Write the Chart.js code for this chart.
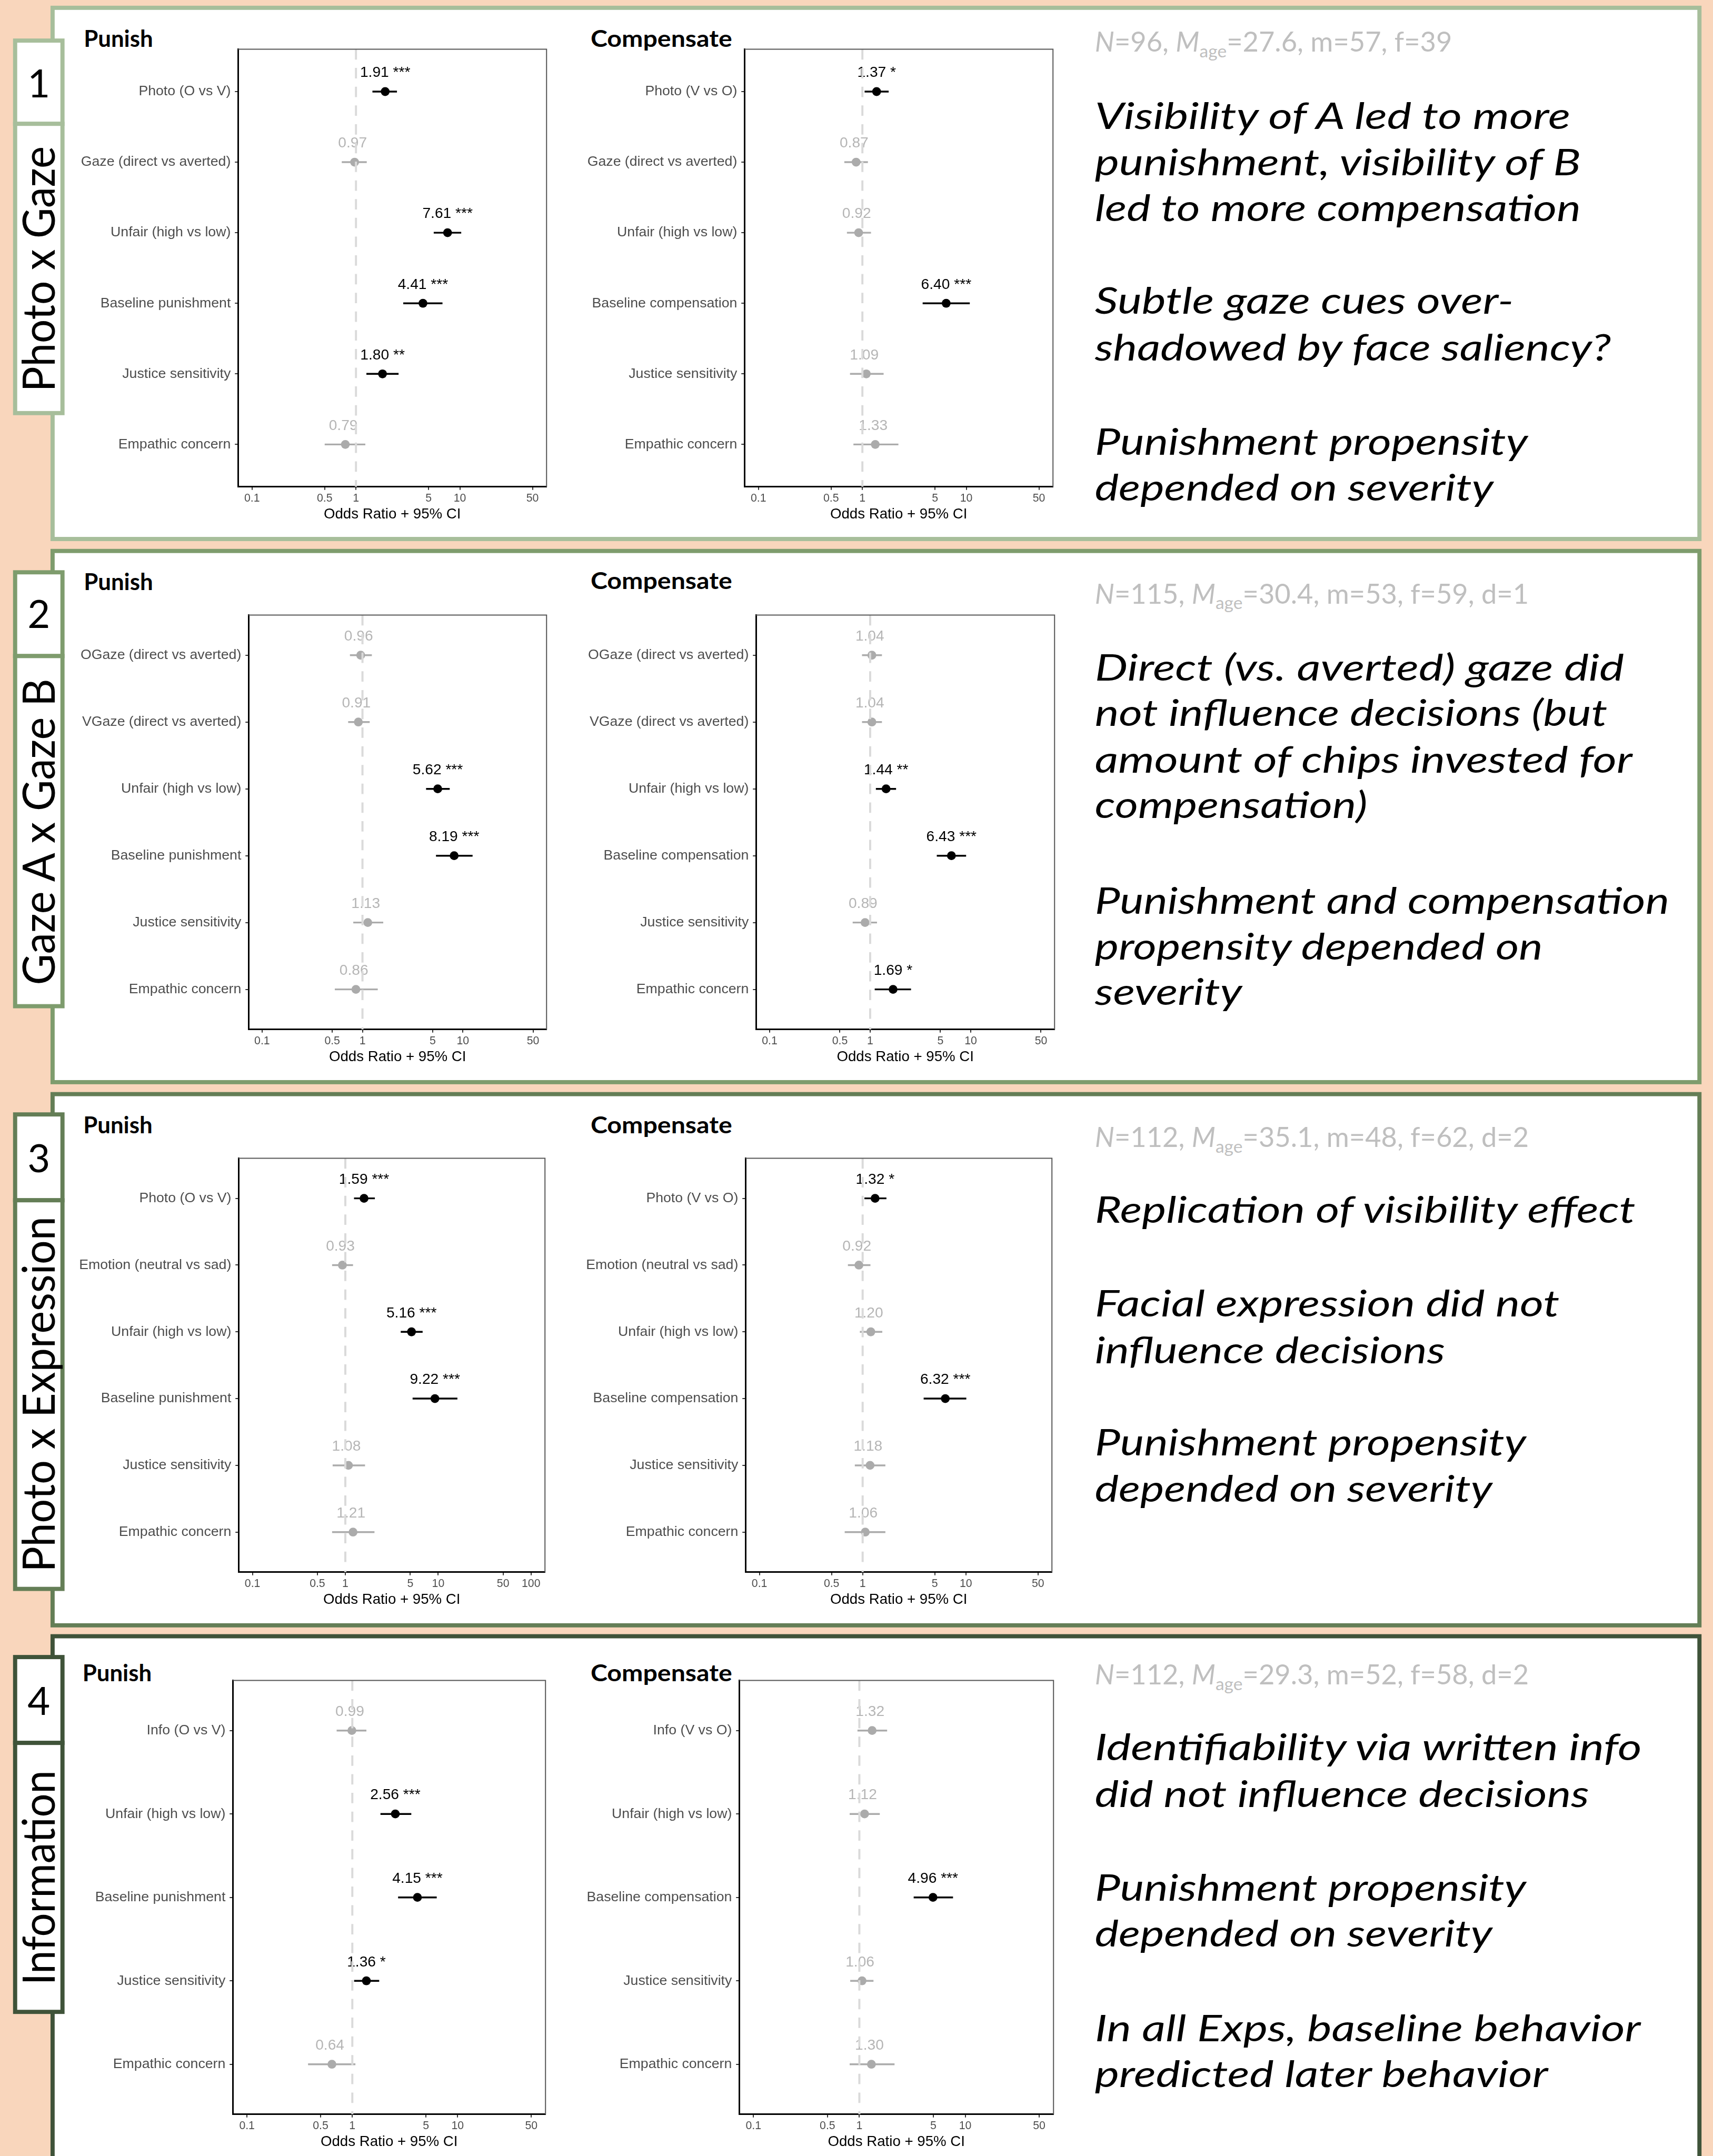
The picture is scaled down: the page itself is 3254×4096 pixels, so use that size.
<!DOCTYPE html>
<html>
<head>
<meta charset="utf-8">
<script src="https://cdn.jsdelivr.net/npm/chart.js@4.4.1/dist/chart.umd.min.js"></script>
<style>
  html, body { margin: 0; padding: 0; background: #f9d6bc; }
  #page { position: relative; width: 3254px; height: 4096px; overflow: hidden; background: #f9d6bc; }
  #deco { position: absolute; left: 0; top: 0; }
  #page canvas { position: absolute; }
  .num { font-family: Lato, sans-serif; font-size: 75px; fill: #000; }
  .side { font-family: Lato, sans-serif; font-size: 86px; fill: #000; }
  .sub { font-family: Lato, sans-serif; font-weight: 700; font-size: 44px; fill: #000; }
  .stats { font-family: Lato, sans-serif; font-size: 53px; fill: #bfbfbf; }
  .note { font-family: Lato, sans-serif; font-style: italic; font-size: 70px; fill: #000; }
</style>
</head>
<body>
<div id="page">
<svg id="deco" width="3254" height="4096" viewBox="0 0 3292 4144">
  <!-- experiment panels -->
  <rect x="101" y="15" width="3165" height="1021" fill="#fff" stroke="#a7be9b" stroke-width="8"/>
  <rect x="101" y="1059" width="3165" height="1021" fill="#fff" stroke="#7e9c6d" stroke-width="8"/>
  <rect x="101" y="2103" width="3165" height="1021" fill="#fff" stroke="#647e56" stroke-width="8"/>
  <rect x="101" y="3145" width="3165" height="1051" fill="#fff" stroke="#3f5339" stroke-width="8"/>
  <!-- side tabs -->
  <rect x="29" y="78" width="91" height="160" fill="#fff" stroke="#a7be9b" stroke-width="8"/>
  <rect x="29" y="238" width="91" height="556" fill="#fff" stroke="#a7be9b" stroke-width="8"/>
  <rect x="29" y="1100" width="91" height="161" fill="#fff" stroke="#7e9c6d" stroke-width="8"/>
  <rect x="29" y="1261" width="91" height="673" fill="#fff" stroke="#7e9c6d" stroke-width="8"/>
  <rect x="29" y="2142" width="91" height="165" fill="#fff" stroke="#647e56" stroke-width="8"/>
  <rect x="29" y="2307" width="91" height="747" fill="#fff" stroke="#647e56" stroke-width="8"/>
  <rect x="29" y="3185" width="91" height="165" fill="#fff" stroke="#3f5339" stroke-width="8"/>
  <rect x="29" y="3350" width="91" height="517" fill="#fff" stroke="#3f5339" stroke-width="8"/>

  <text class="num" x="74.5" y="187.5" text-anchor="middle">1</text>
  <text class="num" x="74.5" y="1207" text-anchor="middle">2</text>
  <text class="num" x="74.5" y="2253" text-anchor="middle">3</text>
  <text class="num" x="74.5" y="3296" text-anchor="middle">4</text>

  <text class="side" transform="translate(105,517) rotate(-90)" text-anchor="middle" textLength="472" lengthAdjust="spacingAndGlyphs">Photo x Gaze</text>
  <text class="side" transform="translate(105,1599) rotate(-90)" text-anchor="middle" textLength="589" lengthAdjust="spacingAndGlyphs">Gaze A x Gaze B</text>
  <text class="side" transform="translate(105,2680) rotate(-90)" text-anchor="middle" textLength="683" lengthAdjust="spacingAndGlyphs">Photo x Expression</text>
  <text class="side" transform="translate(105,3609) rotate(-90)" text-anchor="middle" textLength="413" lengthAdjust="spacingAndGlyphs">Information</text>

  <text class="stats" x="2104" y="99"><tspan font-style="italic">N</tspan>=96, <tspan font-style="italic">M</tspan><tspan font-size="34" dy="11">age</tspan><tspan dy="-11">=27.6, m=57, f=39</tspan></text>
  <text class="stats" x="2104" y="1160"><tspan font-style="italic">N</tspan>=115, <tspan font-style="italic">M</tspan><tspan font-size="34" dy="11">age</tspan><tspan dy="-11">=30.4, m=53, f=59, d=1</tspan></text>
  <text class="stats" x="2104" y="2205"><tspan font-style="italic">N</tspan>=112, <tspan font-style="italic">M</tspan><tspan font-size="34" dy="11">age</tspan><tspan dy="-11">=35.1, m=48, f=62, d=2</tspan></text>
  <text class="stats" x="2104" y="3238"><tspan font-style="italic">N</tspan>=112, <tspan font-style="italic">M</tspan><tspan font-size="34" dy="11">age</tspan><tspan dy="-11">=29.3, m=52, f=58, d=2</tspan></text>
</svg>
</div>

<script>
// ---- data (odds ratios with 95% CI) ----
const oddsTicks = [0.1, 0.5, 1, 5, 10, 50];
const oddsTicksWide = [0.1, 0.5, 1, 5, 10, 50, 100];

// Exp 1: Photo x Gaze
const exp1PunishLabels = ["Photo (O vs V)", "Gaze (direct vs averted)", "Unfair (high vs low)", "Baseline punishment", "Justice sensitivity", "Empathic concern"];
const exp1PunishOR = [1.91, 0.97, 7.61, 4.41, 1.80, 0.79];
const exp1PunishLow = [1.44, 0.73, 5.6, 2.85, 1.26, 0.50];
const exp1PunishHigh = [2.48, 1.27, 10.3, 6.8, 2.57, 1.23];
const exp1PunishStars = ["***", "", "***", "***", "**", ""];

const exp1CompLabels = ["Photo (V vs O)", "Gaze (direct vs averted)", "Unfair (high vs low)", "Baseline compensation", "Justice sensitivity", "Empathic concern"];
const exp1CompOR = [1.37, 0.87, 0.92, 6.40, 1.09, 1.33];
const exp1CompLow = [1.05, 0.67, 0.71, 3.8, 0.76, 0.82];
const exp1CompHigh = [1.79, 1.13, 1.21, 10.8, 1.60, 2.22];
const exp1CompStars = ["*", "", "", "***", "", ""];

// Exp 2: Gaze A x Gaze B
const exp2PunishLabels = ["OGaze (direct vs averted)", "VGaze (direct vs averted)", "Unfair (high vs low)", "Baseline punishment", "Justice sensitivity", "Empathic concern"];
const exp2PunishOR = [0.96, 0.91, 5.62, 8.19, 1.13, 0.86];
const exp2PunishLow = [0.75, 0.72, 4.3, 5.4, 0.81, 0.53];
const exp2PunishHigh = [1.24, 1.18, 7.4, 12.5, 1.61, 1.42];
const exp2PunishStars = ["", "", "***", "***", "", ""];

const exp2CompLabels = ["OGaze (direct vs averted)", "VGaze (direct vs averted)", "Unfair (high vs low)", "Baseline compensation", "Justice sensitivity", "Empathic concern"];
const exp2CompOR = [1.04, 1.04, 1.44, 6.43, 0.89, 1.69];
const exp2CompLow = [0.83, 0.83, 1.14, 4.6, 0.67, 1.11];
const exp2CompHigh = [1.31, 1.31, 1.81, 9.0, 1.17, 2.55];
const exp2CompStars = ["", "", "**", "***", "", "*"];

// Exp 3: Photo x Expression
const exp3PunishLabels = ["Photo (O vs V)", "Emotion (neutral vs sad)", "Unfair (high vs low)", "Baseline punishment", "Justice sensitivity", "Empathic concern"];
const exp3PunishOR = [1.59, 0.93, 5.16, 9.22, 1.08, 1.21];
const exp3PunishLow = [1.24, 0.72, 3.95, 5.3, 0.73, 0.72];
const exp3PunishHigh = [2.08, 1.21, 6.8, 16.1, 1.63, 2.06];
const exp3PunishStars = ["***", "", "***", "***", "", ""];

const exp3CompLabels = ["Photo (V vs O)", "Emotion (neutral vs sad)", "Unfair (high vs low)", "Baseline compensation", "Justice sensitivity", "Empathic concern"];
const exp3CompOR = [1.32, 0.92, 1.20, 6.32, 1.18, 1.06];
const exp3CompLow = [1.04, 0.72, 0.94, 3.9, 0.84, 0.67];
const exp3CompHigh = [1.70, 1.19, 1.55, 10.1, 1.66, 1.66];
const exp3CompStars = ["*", "", "", "***", "", ""];

// Exp 4: Information
const exp4PunishLabels = ["Info (O vs V)", "Unfair (high vs low)", "Baseline punishment", "Justice sensitivity", "Empathic concern"];
const exp4PunishOR = [0.99, 2.56, 4.15, 1.36, 0.64];
const exp4PunishLow = [0.71, 1.85, 2.72, 1.04, 0.38];
const exp4PunishHigh = [1.36, 3.63, 6.33, 1.80, 1.07];
const exp4PunishStars = ["", "***", "***", "*", ""];

const exp4CompLabels = ["Info (V vs O)", "Unfair (high vs low)", "Baseline compensation", "Justice sensitivity", "Empathic concern"];
const exp4CompOR = [1.32, 1.12, 4.96, 1.06, 1.30];
const exp4CompLow = [0.96, 0.81, 3.26, 0.82, 0.81];
const exp4CompHigh = [1.83, 1.56, 7.67, 1.36, 2.15];
const exp4CompStars = ["", "", "***", "", ""];

// ---- text next to the plots ----
const notes = [
  [248, "Visibility of A led to more", 914], [337, "punishment, visibility of B", 934], [425, "led to more compensation", 934],
  [603, "Subtle gaze cues over-", 805], [693, "shadowed by face saliency?", 992],
  [874, "Punishment propensity", 832], [962, "depended on severity", 766],
  [1308, "Direct (vs. averted) gaze did", 1017], [1395, "not influence decisions (but", 985],
  [1485, "amount of chips invested for", 1033], [1572, "compensation)", 524],
  [1756, "Punishment and compensation", 1104], [1844, "propensity depended on", 861], [1931, "severity", 283],
  [2350, "Replication of visibility effect", 1039],
  [2530, "Facial expression did not", 893], [2620, "influence decisions", 673],
  [2797, "Punishment propensity", 829], [2886, "depended on severity", 764],
  [3383, "Identifiability via written info", 1051], [3473, "did not influence decisions", 950],
  [3653, "Punishment propensity", 829], [3741, "depended on severity", 764],
  [3923, "In all Exps, baseline behavior", 1049], [4011, "predicted later behavior", 871]
];
const subtitles = [
  [161, 90, "Punish", 133], [1135, 90, "Compensate", 272],
  [161, 1134, "Punish", 133], [1135, 1132, "Compensate", 272],
  [160, 2178, "Punish", 133], [1135, 2178, "Compensate", 272],
  [158.5, 3231, "Punish", 133], [1135, 3231, "Compensate", 272]
];

const S = 3254 / 3292;
const AXIS_FONT = '"Liberation Sans", Arial, sans-serif';
const GREY_MARK = '#ababab';
const GREY_TEXT = '#b5b5b5';
const NS = 'http://www.w3.org/2000/svg';
const svg = document.getElementById('deco');

function svgText(x, y, str, cls, width) {
  const t = document.createElementNS(NS, 'text');
  t.setAttribute('x', x);
  t.setAttribute('y', y);
  t.setAttribute('class', cls);
  if (width) {
    t.setAttribute('textLength', width);
    t.setAttribute('lengthAdjust', 'spacingAndGlyphs');
  }
  t.textContent = str;
  svg.appendChild(t);
}
notes.forEach(n => svgText(2104, n[0], n[1], 'note', n[2]));
subtitles.forEach(s => svgText(s[0], s[1], s[2], 'sub', s[3]));

// one forest plot; area = plot panel edges in reference pixels
function forestPlot(area, labels, or, low, high, stars, ticks) {
  const YW = 420, PT = 40, PR = 20, XH = 70;
  const cv = document.createElement('canvas');
  cv.width = Math.round((area.r - area.l + YW + PR) * S);
  cv.height = Math.round((area.b - area.t + PT + XH) * S);
  cv.style.left = ((area.l - YW) * S) + 'px';
  cv.style.top = ((area.t - PT) * S) + 'px';
  document.getElementById('page').appendChild(cv);

  const colour = stars.map(s => s ? '#000000' : GREY_MARK);
  const lo10 = Math.log10(ticks[0]), hi10 = Math.log10(ticks[ticks.length - 1]);
  const pad = (hi10 - lo10) * 0.05;

  const datasets = [{
    type: 'scatter',
    data: or.map((v, i) => ({ x: v, y: i + 1 })),
    pointRadius: 8.5 * S,
    pointHoverRadius: 8.5 * S,
    pointBackgroundColor: colour,
    pointBorderWidth: 0,
    order: 0
  }];
  labels.forEach((_, i) => {
    datasets.push({
      type: 'line',
      data: [{ x: low[i], y: i + 1 }, { x: high[i], y: i + 1 }],
      borderColor: colour[i],
      borderWidth: 3.5 * S,
      pointRadius: 0,
      order: 1
    });
  });

  const decor = {
    id: 'decor',
    afterDatasetsDraw(chart) {
      const { ctx, chartArea: a, scales: { x, y } } = chart;
      ctx.save();
      // estimate labels above the points
      ctx.font = (28.5 * S) + 'px ' + AXIS_FONT;
      ctx.textAlign = 'center';
      ctx.textBaseline = 'alphabetic';
      or.forEach((v, i) => {
        ctx.fillStyle = stars[i] ? '#000000' : GREY_TEXT;
        ctx.fillText(v.toFixed(2) + ' ' + stars[i], x.getPixelForValue(v), y.getPixelForValue(i + 1) - 28 * S);
      });
      // reference line at OR = 1
      const x1 = x.getPixelForValue(1);
      ctx.strokeStyle = '#dadada';
      ctx.lineWidth = 4 * S;
      ctx.setLineDash([20 * S, 16 * S]);
      ctx.beginPath();
      ctx.moveTo(x1, a.top);
      ctx.lineTo(x1, a.bottom);
      ctx.stroke();
      // thin grey frame on top and right
      ctx.setLineDash([]);
      ctx.strokeStyle = '#555555';
      ctx.lineWidth = 2 * S;
      ctx.beginPath();
      ctx.moveTo(a.left, a.top);
      ctx.lineTo(a.right, a.top);
      ctx.lineTo(a.right, a.bottom);
      ctx.stroke();
      ctx.restore();
    }
  };

  new Chart(cv, {
    type: 'scatter',
    data: { datasets },
    options: {
      responsive: false,
      animation: false,
      events: [],
      layout: { padding: { top: PT * S, right: PR * S, left: 0, bottom: 0 } },
      plugins: { legend: { display: false }, tooltip: { enabled: false } },
      scales: {
        x: {
          type: 'logarithmic',
          min: Math.pow(10, lo10 - pad),
          max: Math.pow(10, hi10 + pad),
          afterBuildTicks: s => { s.ticks = ticks.map(v => ({ value: v })); },
          afterFit: s => { s.height = XH * S; },
          grid: { display: true, drawOnChartArea: false, drawTicks: true, tickLength: 6 * S, color: '#333333', lineWidth: 2 * S },
          border: { display: true, color: '#000000', width: 3 * S },
          ticks: {
            autoSkip: false, maxRotation: 0, minRotation: 0,
            color: '#4d4d4d', padding: 4 * S,
            font: { family: AXIS_FONT, size: 21.5 * S },
            callback: v => String(v)
          },
          title: { display: true, text: 'Odds Ratio + 95% CI', color: '#000000', padding: 0, font: { family: AXIS_FONT, size: 28 * S } }
        },
        y: {
          type: 'linear',
          reverse: true,
          min: 0.4,
          max: labels.length + 0.6,
          afterBuildTicks: s => { s.ticks = labels.map((_, i) => ({ value: i + 1 })); },
          afterFit: s => { s.width = YW * S; },
          grid: { display: true, drawOnChartArea: false, drawTicks: true, tickLength: 6 * S, color: '#333333', lineWidth: 2 * S },
          border: { display: true, color: '#000000', width: 3 * S },
          ticks: {
            color: '#4d4d4d', padding: 8 * S,
            font: { family: AXIS_FONT, size: 27 * S },
            callback: v => labels[Math.round(v) - 1]
          }
        }
      }
    },
    plugins: [decor]
  });
}

forestPlot({ l: 457, t: 95, r: 1050, b: 935.5 }, exp1PunishLabels, exp1PunishOR, exp1PunishLow, exp1PunishHigh, exp1PunishStars, oddsTicks);
forestPlot({ l: 1430.4, t: 95, r: 2023.5, b: 935.5 }, exp1CompLabels, exp1CompOR, exp1CompLow, exp1CompHigh, exp1CompStars, oddsTicks);
forestPlot({ l: 477.7, t: 1182.6, r: 1050, b: 1978.8 }, exp2PunishLabels, exp2PunishOR, exp2PunishLow, exp2PunishHigh, exp2PunishStars, oddsTicks);
forestPlot({ l: 1452.7, t: 1182.6, r: 2026, b: 1978.8 }, exp2CompLabels, exp2CompOR, exp2CompLow, exp2CompHigh, exp2CompStars, oddsTicks);
forestPlot({ l: 458.8, t: 2226.5, r: 1047.3, b: 3022 }, exp3PunishLabels, exp3PunishOR, exp3PunishLow, exp3PunishHigh, exp3PunishStars, oddsTicksWide);
forestPlot({ l: 1432.9, t: 2226.5, r: 2022.2, b: 3022 }, exp3CompLabels, exp3CompOR, exp3CompLow, exp3CompHigh, exp3CompStars, oddsTicks);
forestPlot({ l: 447.6, t: 3229.5, r: 1048.8, b: 4063 }, exp4PunishLabels, exp4PunishOR, exp4PunishLow, exp4PunishHigh, exp4PunishStars, oddsTicks);
forestPlot({ l: 1420.8, t: 3229.5, r: 2024.7, b: 4063 }, exp4CompLabels, exp4CompOR, exp4CompLow, exp4CompHigh, exp4CompStars, oddsTicks);
</script>
</body>
</html>
